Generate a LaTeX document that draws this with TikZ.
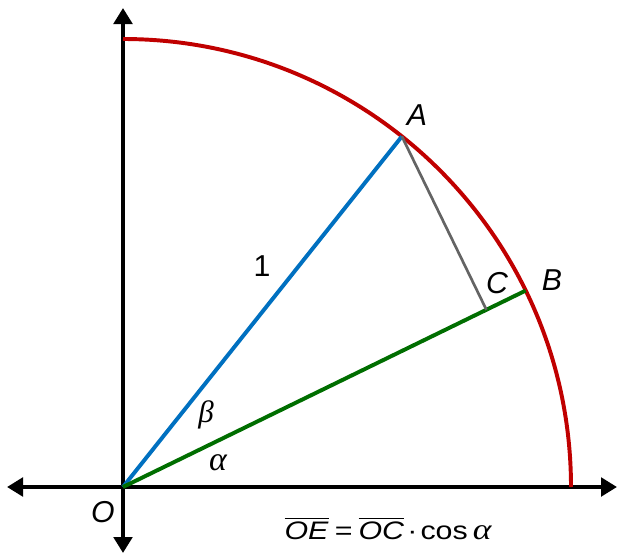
\documentclass[tikz,border=0pt]{standalone}
\usepackage{amsmath}
\usepackage{graphicx}
\usepackage{fontspec}
\setmainfont{Liberation Sans}
\newfontfamily\griegafont{Liberation Serif}
\usepackage{tikz}
\usetikzlibrary{arrows.meta,calc}
\definecolor{rojo}{RGB}{192,0,0}
\definecolor{azul}{RGB}{0,112,192}
\definecolor{verde}{RGB}{0,110,0}
\definecolor{gris}{RGB}{100,100,100}

\begin{document}
\begin{tikzpicture}[
  x=0.025cm, y=0.025cm,
  eje/.style={line width=3.5pt, {Triangle[length=4mm,width=4.6mm]}-{Triangle[length=4mm,width=4.6mm]}},
  linea/.style={line width=2.8pt},
  etiq/.style={font=\fontsize{21.5}{21.5}\selectfont\itshape, inner sep=0},
  griega/.style={font=\fontsize{22}{22}\selectfont\griegafont\itshape, inner sep=0},
]
\useasboundingbox (-123,-67) rectangle (495,487);
% Puntos
\coordinate (O) at (0,0);
\coordinate (A) at (51.5:448);
\coordinate (B) at (26:448);
\coordinate (C) at ($(O)!(A)!(B)$);
\coordinate (xi) at (-116,0);
\coordinate (xd) at (494,0);
\coordinate (yb) at (0,-66);
\coordinate (ya) at (0,479);
\coordinate (arcoI) at (0,448);
% Ejes
\draw[eje] (xi) -- (xd);
\draw[eje] (yb) -- (ya);
% Arco
\draw[linea, rojo] (arcoI) arc[start angle=90, end angle=0, radius=448];
% Radios
\draw[linea, azul] (O) -- (A);
\draw[linea, verde] (O) -- (B);
\draw[line width=1.9pt, gris] (A) -- (C);
% Etiquetas
\node[etiq] (lA) at (294,372) {A};
\node[etiq] (lB) at (429,207) {B};
\node[etiq] (lC) at (374,204) {C};
\node[etiq] (lO) at (-20,-25) {O};
\node[etiq, font=\fontsize{21.5}{21.5}\selectfont] (l1) at (139,221) {1};
\node[griega] (lbeta) at (83,72) {β};
\node[griega, font=\fontsize{24}{24}\selectfont\griegafont\itshape] (lalfa) at (95,24) {α};
\node[font=\fontsize{18}{18}\selectfont, inner sep=0] (form) at (265,-41)
  {\scalebox{1.2}[1]{$\overline{\hbox{\textit{OE}}}$\kern0.2em=\kern0.2em$\overline{\hbox{\textit{OC}}}$\kern0.1em·\kern0.1em cos\,{\griegafont\itshape\fontsize{21}{21}\selectfont α}}};
\end{tikzpicture}
\end{document}
